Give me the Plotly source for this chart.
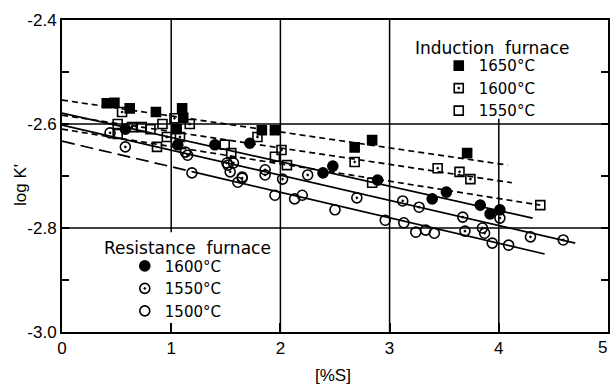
import plotly.graph_objects as go

# ---------------- data ----------------
ind1650_x = [0.41, 0.48, 0.62, 0.86, 1.10, 1.11, 1.05, 1.83, 1.95, 2.68, 2.84, 3.71]
ind1650_y = [-2.560, -2.559, -2.570, -2.577, -2.570, -2.588, -2.610, -2.612, -2.612, -2.645, -2.631, -2.656]

ind1600_x = [0.55, 0.64, 0.96, 1.03, 1.17, 1.08, 1.79, 2.01, 2.68, 3.44, 3.64, 3.74]
ind1600_y = [-2.577, -2.606, -2.625, -2.589, -2.600, -2.625, -2.625, -2.650, -2.673, -2.685, -2.692, -2.706]

ind1550_x = [0.51, 0.51, 0.73, 0.81, 0.92, 0.87, 1.49, 1.55, 1.95, 2.06, 2.84, 4.38]
ind1550_y = [-2.600, -2.619, -2.606, -2.610, -2.600, -2.644, -2.640, -2.656, -2.663, -2.679, -2.713, -2.756]

res1600_x = [0.58, 1.06, 1.40, 1.72, 2.39, 2.48, 2.89, 3.39, 3.52, 3.83, 3.92, 4.01]
res1600_y = [-2.610, -2.640, -2.640, -2.637, -2.694, -2.681, -2.708, -2.744, -2.731, -2.756, -2.773, -2.765]

res1550_x = [0.44, 0.58, 1.15, 1.51, 1.57, 1.54, 1.65, 1.86, 1.86, 2.02, 2.25, 2.70,
             3.12, 3.27, 3.67, 3.69, 3.85, 3.87, 4.01, 4.29, 4.59]
res1550_y = [-2.617, -2.644, -2.660, -2.675, -2.675, -2.692, -2.704, -2.688, -2.698, -2.706, -2.698, -2.742,
             -2.748, -2.760, -2.779, -2.806, -2.800, -2.810, -2.781, -2.817, -2.823]

res1500_x = [1.13, 1.19, 1.52, 1.61, 1.65, 1.95, 2.13, 2.20, 2.50, 2.96, 3.13, 3.24, 3.33, 3.41, 3.94, 4.09]
res1500_y = [-2.654, -2.694, -2.679, -2.712, -2.702, -2.737, -2.744, -2.737, -2.765, -2.785, -2.790, -2.808,
             -2.804, -2.810, -2.829, -2.833]

# regression lines (end points)
fit_ind1650_x = [0, 4.08];  fit_ind1650_y = [-2.554, -2.679]
fit_ind1600_x = [0, 4.12];  fit_ind1600_y = [-2.583, -2.713]
fit_ind1550_x = [0, 4.38];  fit_ind1550_y = [-2.610, -2.756]
fit_res1600_x = [0, 4.31];  fit_res1600_y = [-2.579, -2.781]
fit_res1550_x = [0, 4.70];  fit_res1550_y = [-2.602, -2.829]
fit_res1500_x = [0, 1.2, 4.42]; fit_res1500_y = [-2.633, -2.692, -2.850]

x_ticks = [0, 1, 2, 3, 4, 5]
x_ticktext = ["0", "1", "2", "3", "4", ""]
x_last_label = "5"   # drawn right-aligned at the frame edge so it is not clipped
y_ticks = [-3.0, -2.8, -2.6, -2.4]
y_ticktext = ["-3.0", "-2.8", "-2.6", "-2.4"]
y_minor = [-2.9, -2.7, -2.5]
grid_x = [1, 2, 3, 4]
grid_y = [-2.8, -2.6]

# ---------------- figure ----------------
fig = go.Figure()
BLK = "black"
short_dash = "6px,4px"
long_dash = "13px,6px"

def fit(x, y, dash):
    fig.add_trace(go.Scatter(x=x, y=y, mode="lines", showlegend=False, hoverinfo="skip",
                             line=dict(color=BLK, width=1.7, dash=dash)))

fit(fit_ind1650_x, fit_ind1650_y, short_dash)
fit(fit_ind1600_x, fit_ind1600_y, short_dash)
fit(fit_ind1550_x, fit_ind1550_y, short_dash)
fit(fit_res1600_x, fit_res1600_y, "solid")
fit(fit_res1550_x, fit_res1550_y, "solid")
fit(fit_res1500_x[:2], fit_res1500_y[:2], long_dash)
fit(fit_res1500_x[1:], fit_res1500_y[1:], "solid")

def pts(x, y, name, symbol, size, legend):
    fig.add_trace(go.Scatter(x=x, y=y, mode="markers", name=name, legend=legend,
                             marker=dict(symbol=symbol, size=size, color=BLK,
                                         line=dict(color=BLK, width=1.6))))

pts(ind1650_x, ind1650_y, "1650°C", "square", 9, "legend")
pts(ind1600_x, ind1600_y, "1600°C", "square-open-dot", 9, "legend")
pts(ind1550_x, ind1550_y, "1550°C", "square-open", 9, "legend")
pts(res1600_x, res1600_y, "1600°C", "circle", 10, "legend2")
pts(res1550_x, res1550_y, "1550°C", "circle-open-dot", 10, "legend2")
pts(res1500_x, res1500_y, "1500°C", "circle-open", 10, "legend2")

shapes = []
for gx in grid_x:
    shapes.append(dict(type="line", xref="x", yref="y", x0=gx, x1=gx, y0=-3.0, y1=-2.4,
                       line=dict(color=BLK, width=1.5), layer="below"))
for gy in grid_y:
    shapes.append(dict(type="line", xref="x", yref="y", x0=0, x1=5, y0=gy, y1=gy,
                       line=dict(color=BLK, width=1.5), layer="below"))
# white panels behind the two legends
shapes.append(dict(type="rect", xref="x", yref="y", x0=3.12, x1=5, y0=-2.59, y1=-2.4,
                   fillcolor="white", line=dict(width=0), layer="below"))
shapes.append(dict(type="rect", xref="x", yref="y", x0=0.3, x1=1.9, y0=-2.99, y1=-2.808,
                   fillcolor="white", line=dict(width=0), layer="below"))

legend_common = dict(bgcolor="rgba(0,0,0,0)", borderwidth=0, xanchor="left", yanchor="top",
                     font=dict(family="DejaVu Sans", size=15, color=BLK), tracegroupgap=0)

fig.update_layout(
    width=611, height=385,
    margin=dict(l=62, r=3, t=20, b=53),
    paper_bgcolor="white", plot_bgcolor="white",
    font=dict(family="Liberation Sans", size=17, color=BLK),
    shapes=shapes,
    legend=dict(x=0.69, y=0.906, **legend_common),
    legend2=dict(x=0.115, y=0.264, **legend_common),
    annotations=[
        dict(text="Induction  furnace", xref="paper", yref="paper", x=0.789, y=0.910,
             showarrow=False, xanchor="center", yanchor="middle",
             font=dict(family="DejaVu Sans", size=17, color=BLK)),
        dict(text="Resistance  furnace", xref="paper", yref="paper", x=0.229, y=0.269,
             showarrow=False, xanchor="center", yanchor="middle",
             font=dict(family="DejaVu Sans", size=17, color=BLK)),
        dict(text="log K'", xref="paper", yref="paper", x=-0.077, y=0.471, textangle=-90,
             showarrow=False, xanchor="center", yanchor="middle",
             font=dict(family="Liberation Sans", size=17, color=BLK)),
        dict(text="[%S]", xref="paper", yref="paper", x=0.496, y=-0.141,
             showarrow=False, xanchor="center", yanchor="middle",
             font=dict(family="Liberation Sans", size=17, color=BLK)),
        dict(text=x_last_label, xref="paper", yref="paper", x=1.0, y=-0.051, xshift=1,
             showarrow=False, xanchor="right", yanchor="middle",
             font=dict(family="Liberation Sans", size=17, color=BLK)),
    ],
)

fig.update_xaxes(range=[0, 5], tickvals=x_ticks, ticktext=x_ticktext, showgrid=False, zeroline=False,
                 showline=True, linecolor=BLK, linewidth=2, mirror=True,
                 ticks="inside", ticklen=9, tickwidth=1.5, tickcolor=BLK, automargin=False)
fig.update_yaxes(range=[-3.0, -2.4], tickvals=y_ticks, ticktext=y_ticktext, showgrid=False, zeroline=False,
                 showline=True, linecolor=BLK, linewidth=2, mirror="ticks",
                 ticks="inside", ticklen=7, tickwidth=1.5, tickcolor=BLK, automargin=False,
                 minor=dict(tickvals=y_minor, ticks="inside", ticklen=7, tickwidth=1.5, tickcolor=BLK, showgrid=False))

fig.write_html("out.html", config={"displayModeBar": False})
